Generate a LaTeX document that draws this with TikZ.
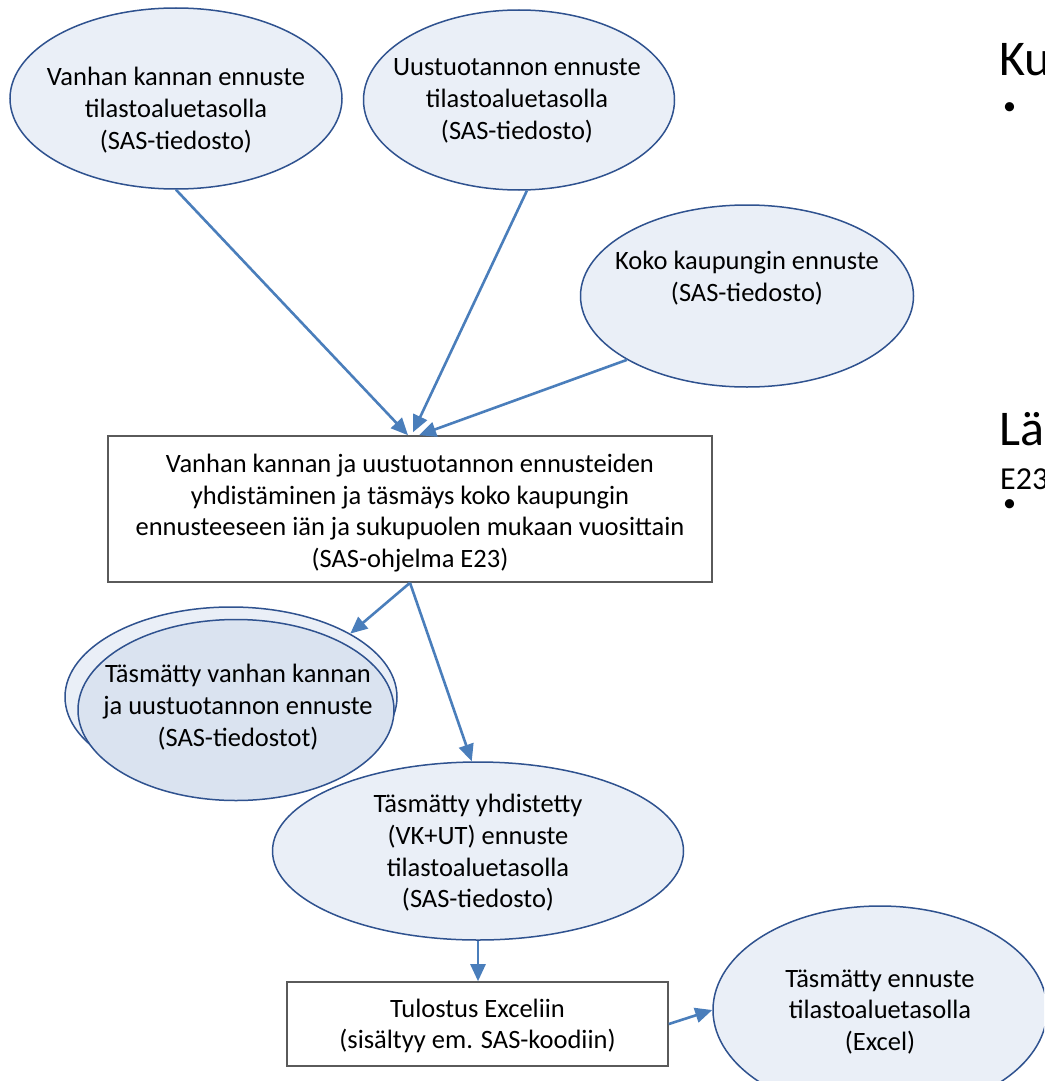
\documentclass[tikz,border=0pt]{standalone}
\usepackage{fontspec}
\setmainfont{Carlito}
\usetikzlibrary{arrows.meta,calc,shapes.geometric}
\definecolor{shapefill}{RGB}{234,239,247}
\definecolor{shapefilldark}{RGB}{218,227,240}
\definecolor{shapeline}{RGB}{47,82,143}
\definecolor{arrowblue}{RGB}{74,126,187}
\definecolor{boxline}{RGB}{90,90,90}
\begin{document}
\begin{tikzpicture}[x=1pt,y=-1pt,
  oval/.style={ellipse, draw=shapeline, line width=1.5pt, fill=shapefill, inner sep=0pt},
  procbox/.style={rectangle, draw=boxline, line width=1.6pt, fill=white, inner sep=0pt},
  lbl/.style={align=center, font=\fontsize{26.5}{31.7}\selectfont, inner sep=0pt},
  flow/.style={draw=arrowblue, line width=2.6pt, -{Triangle[length=17pt,width=15pt]}},
  slidetext/.style={anchor=base west, inner sep=0pt},
]
\clip (0,0) rectangle (1044,1081);
\fill[white] (0,0) rectangle (1044,1081);

% input data sets
\node[oval, minimum width=332pt, minimum height=181pt] (e1) at (176,98.5) {};
\node[lbl] (t1) at (176,110) {Vanhan kannan ennuste\\tilastoaluetasolla\\(SAS-tiedosto)};

\node[oval, minimum width=311pt, minimum height=180pt] (e2) at (519,100) {};
\node[lbl] (t2) at (517,101) {Uustuotannon ennuste\\tilastoaluetasolla\\(SAS-tiedosto)};

\node[oval, minimum width=333pt, minimum height=182pt] (e3) at (747,296) {};
\node[lbl] (t3) at (747,278) {Koko kaupungin ennuste\\(SAS-tiedosto)};

% combining program
\node[procbox, minimum width=604pt, minimum height=146pt] (r1) at (410,509) {};
\node[lbl] (tr1) at (410,513) {Vanhan kannan ja uustuotannon ennusteiden\\yhdistäminen ja täsmäys koko kaupungin\\ennusteeseen iän ja sukupuolen mukaan vuosittain\\(SAS-ohjelma E23)};

% matched data sets (stacked)
\node[oval, minimum width=332pt, minimum height=180pt] (back) at (231,697) {};
\node[oval, fill=shapefilldark, minimum width=316pt, minimum height=181pt] (front) at (236,710) {};
\node[lbl] (t4) at (238,707) {Täsmätty vanhan kannan\\ja uustuotannon ennuste\\(SAS-tiedostot)};

\node[oval, minimum width=411pt, minimum height=178pt] (e5) at (478,851) {};
\node[lbl] (t5) at (478,853) {Täsmätty yhdistetty\\(VK+UT) ennuste\\tilastoaluetasolla\\(SAS-tiedosto)};

% export
\node[procbox, minimum width=381pt, minimum height=84pt] (r2) at (477.5,1024) {};
\node[lbl] (tr2) at (477.5,1026) {Tulostus Exceliin\\(sisältyy em. SAS-koodiin)};

\node[oval, minimum width=334pt, minimum height=208pt] (e6) at (880,1010) {};
\node[lbl] (t6) at (880,1012) {Täsmätty ennuste\\tilastoaluetasolla\\(Excel)};

% connectors
\draw[flow] (e1.south) -- ($(r1.north)+(-2,0)$);
\draw[flow] (e2.-85) -- ($(r1.north)+(3,-3)$);
\draw[flow] (e3.-152) -- ($(r1.north)+(9,0)$);
\draw[flow] (r1.south) -- (back.28);
\draw[flow] (r1.south) -- (e5.94);
\draw[flow] (e5.south) -- (e5.south |- r2.north);
\draw[flow] (r2.east) -- (e6.west);

% slide text at the right edge
\node[slidetext, font=\fontsize{50}{60}\selectfont] (h1) at (999,75) {Ku};
\node[slidetext, font=\fontsize{26}{32}\selectfont] (b1) at (1003,114) {•};
\node[slidetext, font=\fontsize{50}{60}\selectfont] (h2) at (999,445) {Lä};
\node[slidetext, font=\fontsize{32}{38}\selectfont] (h3) at (1000,489) {E23};
\node[slidetext, font=\fontsize{26}{32}\selectfont] (b2) at (1003,511) {•};
\end{tikzpicture}
\end{document}
